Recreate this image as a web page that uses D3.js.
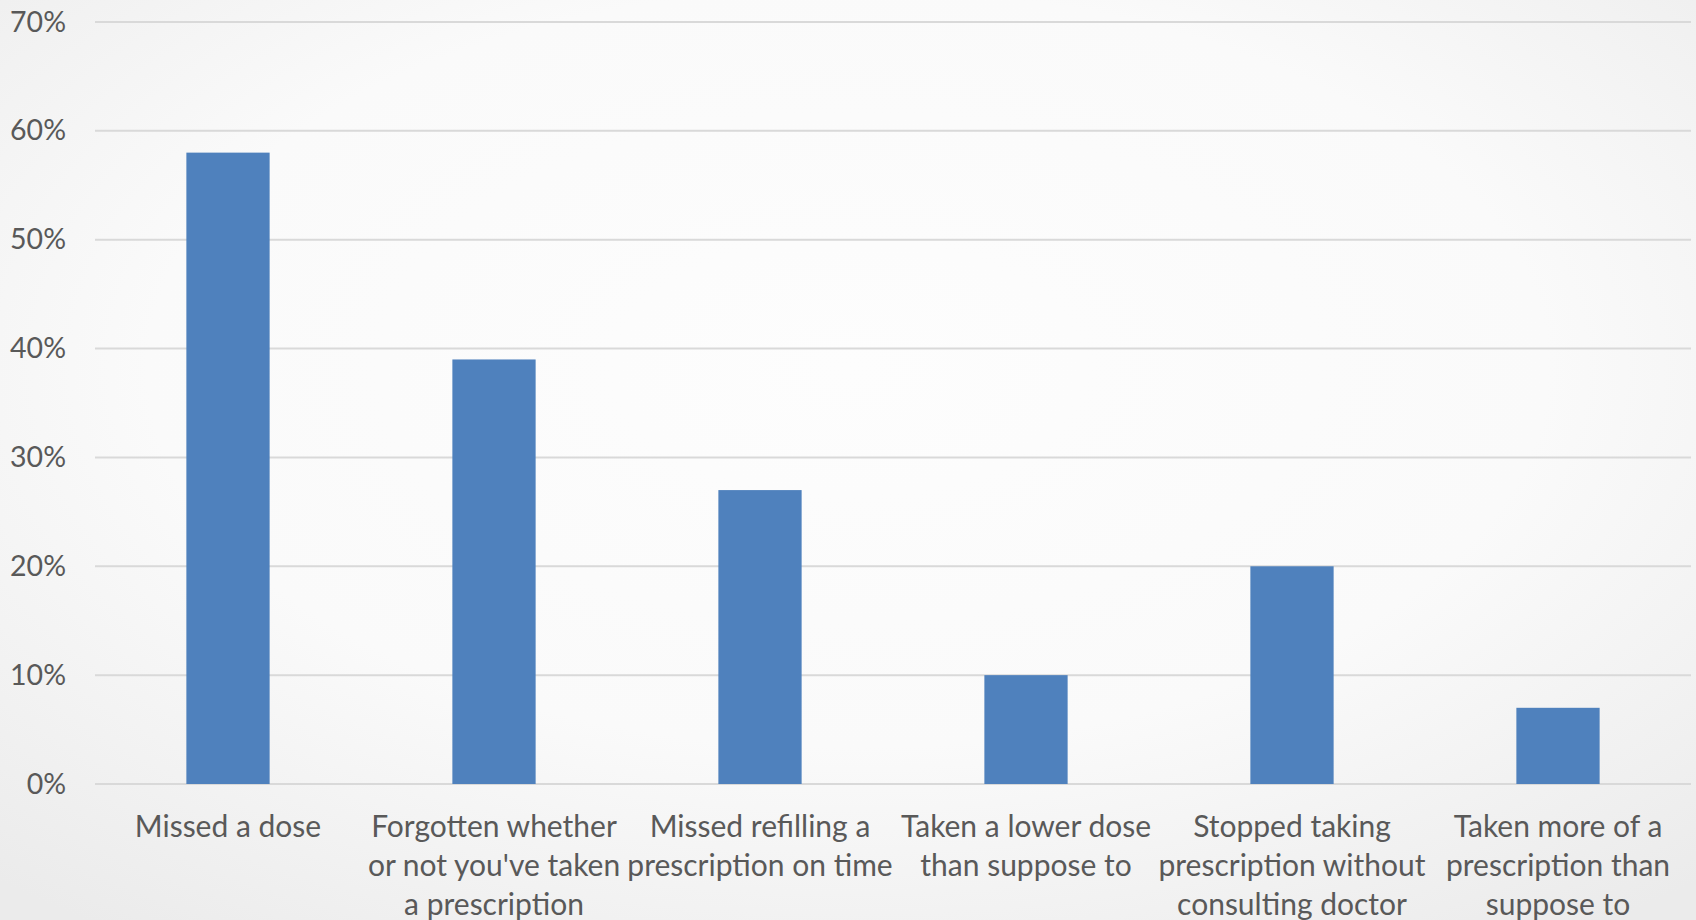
<!DOCTYPE html>
<html>
<head>
<meta charset="utf-8">
<script src="https://cdn.jsdelivr.net/npm/d3@7"></script>
<style>
  html, body { margin: 0; padding: 0; }
  body { width: 1696px; height: 920px; overflow: hidden; }
  svg { display: block; }
</style>
</head>
<body>
<svg id="chart" width="1696" height="920"></svg>
<script>
// Survey responses: share of respondents reporting each behaviour
const categories = [
  "Missed a dose",
  "Forgotten whether or not you've taken a prescription",
  "Missed refilling a prescription on time",
  "Taken a lower dose than suppose to",
  "Stopped taking prescription without consulting doctor",
  "Taken more of a prescription than suppose to"
];
const values = [0.58, 0.39, 0.27, 0.10, 0.20, 0.07];
// Wrapped axis labels, one array of lines per category
const categoryLines = [
  ["Missed a dose"],
  ["Forgotten whether", "or not you've taken", "a prescription"],
  ["Missed refilling a", "prescription on time"],
  ["Taken a lower dose", "than suppose to"],
  ["Stopped taking", "prescription without", "consulting doctor"],
  ["Taken more of a", "prescription than", "suppose to"]
];
const yTicks = [0, 0.1, 0.2, 0.3, 0.4, 0.5, 0.6, 0.7];

const W = 1696, H = 920;
const margin = { left: 95, right: 5, top: 22, bottom: 136 };
const FONT = "Lato, 'Open Sans', sans-serif";
const TEXT = "#595959";

const svg = d3.select("#chart");

// Soft vignette background
const defs = svg.append("defs");
const rg = defs.append("radialGradient").attr("id", "bg")
  .attr("cx", "50%").attr("cy", "40%").attr("r", "75%");
rg.append("stop").attr("offset", "0%").attr("stop-color", "#fdfdfd");
rg.append("stop").attr("offset", "55%").attr("stop-color", "#fafafa");
rg.append("stop").attr("offset", "100%").attr("stop-color", "#ebebeb");
svg.append("rect").attr("width", W).attr("height", H).attr("fill", "url(#bg)");

const x = d3.scaleBand()
  .domain(categories)
  .range([margin.left, W - margin.right])
  .paddingInner(0.687)
  .paddingOuter(0.3435);

const y = d3.scaleLinear()
  .domain([0, 0.7])
  .range([H - margin.bottom, margin.top]);

// Gridlines
svg.append("g")
  .selectAll("line")
  .data(yTicks)
  .join("line")
  .attr("x1", margin.left)
  .attr("x2", W - margin.right)
  .attr("y1", d => y(d))
  .attr("y2", d => y(d))
  .attr("stroke", "#d9d9d9")
  .attr("stroke-width", 2);

// Y axis labels
const yAxis = d3.axisLeft(y)
  .tickValues(yTicks)
  .tickFormat(d3.format(".0%"))
  .tickSize(0)
  .tickPadding(29);
const gy = svg.append("g")
  .attr("transform", `translate(${margin.left},0)`)
  .call(yAxis);
gy.select(".domain").remove();
gy.selectAll("text")
  .attr("fill", TEXT)
  .style("font-family", FONT)
  .style("font-size", "28.5px");

// Bars
svg.append("g")
  .selectAll("rect")
  .data(categories)
  .join("rect")
  .attr("x", d => x(d))
  .attr("width", x.bandwidth())
  .attr("y", (d, i) => y(values[i]))
  .attr("height", (d, i) => y(0) - y(values[i]))
  .attr("fill", "#4f81bd");

// Category labels
const gx = svg.append("g")
  .attr("transform", `translate(0,${y(0)})`)
  .call(d3.axisBottom(x).tickSize(0).tickFormat(""));
gx.select(".domain").remove();
gx.selectAll(".tick").each(function(d, i) {
  const t = d3.select(this).append("text")
    .attr("fill", TEXT)
    .attr("text-anchor", "middle")
    .style("font-family", FONT)
    .style("font-size", "30px");
  categoryLines[i].forEach((line, j) => {
    t.append("tspan")
      .attr("x", 0)
      .attr("y", 53 + j * 39)
      .text(line);
  });
});
</script>
</body>
</html>
